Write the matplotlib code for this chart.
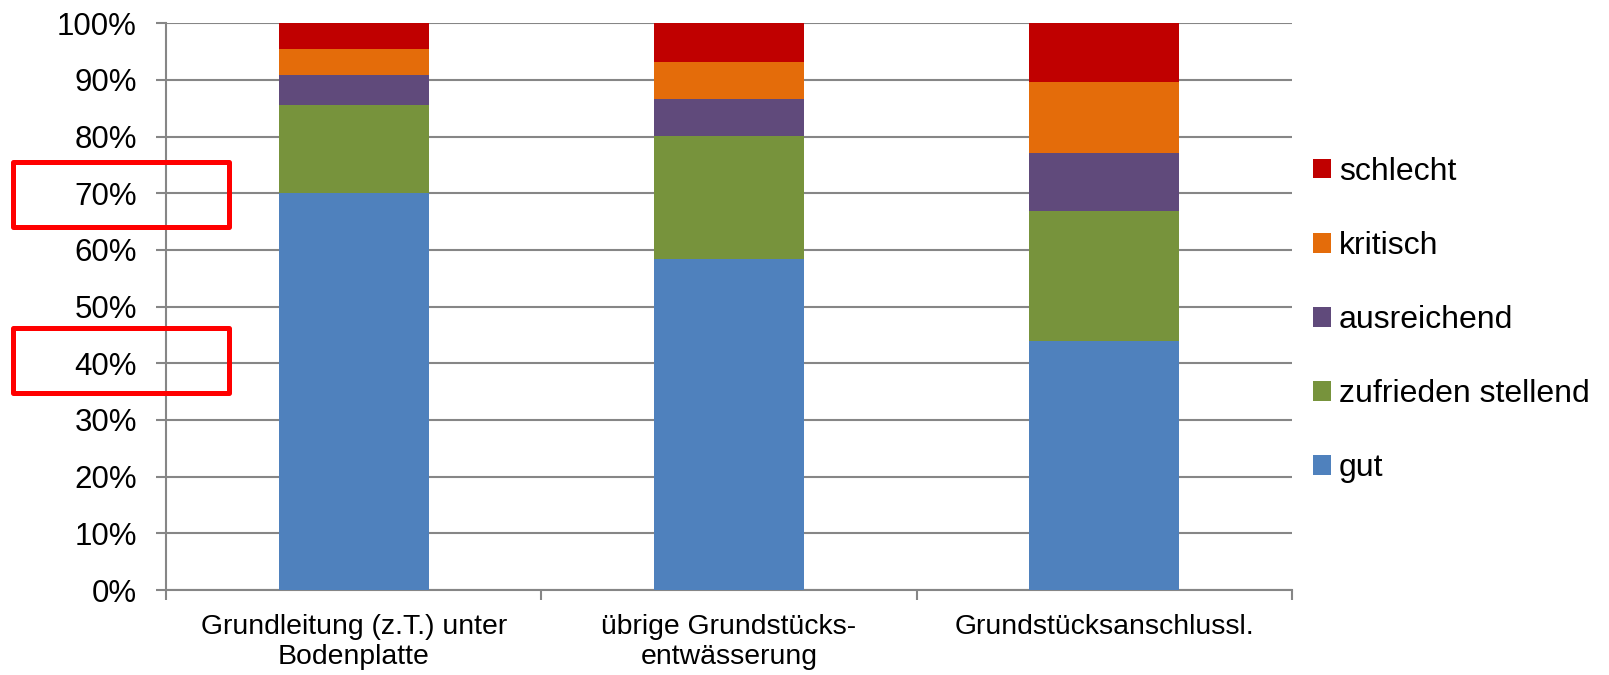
import numpy as np
import matplotlib
matplotlib.use('Agg')
import matplotlib.pyplot as plt
from matplotlib.patches import Rectangle

plt.rcParams['font.family'] = ['Liberation Sans', 'DejaVu Sans']

# condition shares per pipe section, in percent
categories = ['Grundleitung (z.T.) unter\nBodenplatte',
              'übrige Grundstücks-\nentwässerung',
              'Grundstücksanschlussl.']
series_names = ['gut', 'zufrieden stellend', 'ausreichend', 'kritisch', 'schlecht']
gut = [70.0, 58.4, 43.9]
zufrieden = [15.5, 21.7, 22.9]
ausreichend = [5.3, 6.6, 10.4]
kritisch = [4.6, 6.5, 12.4]
schlecht = [4.6, 6.8, 10.4]
colors = ['#4F81BD', '#77933C', '#604A7B', '#E46C0A', '#C00000']
y_ticks = np.arange(0, 101, 10)

W, H = 1609, 675
fig = plt.figure(figsize=(W / 100, H / 100), dpi=100)
ax = fig.add_axes([166 / W, 1 - 590 / H, (1292 - 166) / W, (590 - 23.3) / H])

x = np.arange(len(categories))
bottom = np.zeros(len(categories))
handles = []
for name, vals, col in zip(series_names, [gut, zufrieden, ausreichend, kritisch, schlecht], colors):
    b = ax.bar(x, vals, 0.4, bottom=bottom, color=col, label=name, zorder=3)
    handles.append(b)
    bottom += np.array(vals)

grey = '#868686'
ax.set_xlim(-0.5, 2.5)
ax.set_ylim(0, 100)
ax.set_yticks(y_ticks)
ax.set_yticklabels(['%d%%' % v for v in y_ticks])
ax.grid(axis='y', color=grey, linewidth=1.5, zorder=0)
ax.set_axisbelow(True)

ax.set_xticks(x)
ax.set_xticklabels(categories, fontsize=20.4, linespacing=1.22)
ax.set_xticks([-0.5, 0.5, 1.5, 2.5], minor=True)
ax.tick_params(axis='x', which='major', length=0, pad=17)
ax.tick_params(axis='x', which='minor', length=7, width=1.5, color=grey, direction='out')
ax.tick_params(axis='y', length=7, width=1.5, color=grey, labelsize=22.5, pad=14)

for s in ['top', 'right']:
    ax.spines[s].set_visible(False)
for s in ['left', 'bottom']:
    ax.spines[s].set_color(grey)
    ax.spines[s].set_linewidth(1.5)

leg = ax.legend(handles[::-1], series_names[::-1], loc='upper left',
                bbox_to_anchor=(1313 / W, 1 - 157 / H), bbox_transform=fig.transFigure,
                frameon=False, fontsize=23, handlelength=0.56, handleheight=0.56,
                handletextpad=0.25, labelspacing=1.38, borderaxespad=0, borderpad=0)

# red frames around the 70% and 40% labels
for y0, y1 in [(162, 227), (328, 393)]:
    fig.patches.append(Rectangle((13 / W, 1 - y1 / H), (229 - 13) / W, (y1 - y0) / H,
                                 transform=fig.transFigure, fill=False,
                                 edgecolor='#FF0000', linewidth=3.6, joinstyle='round'))

fig.savefig('out.png', dpi=100)
